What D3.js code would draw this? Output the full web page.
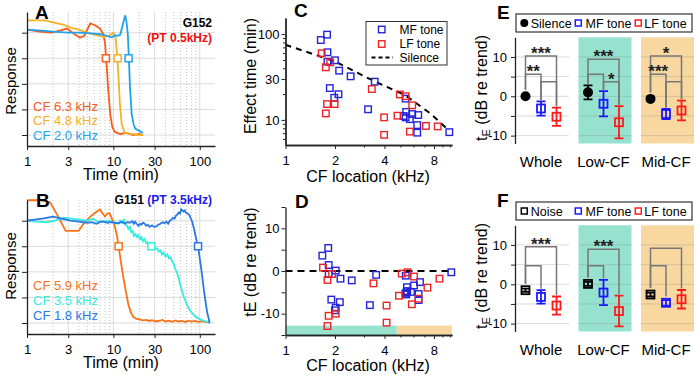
<!DOCTYPE html>
<html>
<head>
<meta charset="utf-8">
<script src="https://cdn.jsdelivr.net/npm/d3@7"></script>
<style>
  body { margin: 0; background: #fff; }
  svg { font-family: "Liberation Sans", Arial, sans-serif; }
</style>
</head>
<body>
<script>
// ---------------- data ----------------
// A: G152 (PT 0.5 kHz), [time min, normalized response]
const a63 = [[1,1.03],[1.4,1.01],[1.9,1.0],[2.4,1.02],[2.9,1.04],[3.5,0.99],[4.1,0.95],[4.6,0.97],[5.4,1.09],[6.2,1.07],[7.0,1.04],[7.6,0.99],[8.0,0.9],[8.3,0.72],[8.7,0.45],[9.2,0.2],[9.7,0.08],[10.4,0.03],[12,0.01],[14,0.02],[17,0.0],[20,0.01],[22,0.0]];
const a48 = [[1,1.12],[1.3,1.12],[1.6,1.12],[2,1.1],[2.6,1.08],[3.2,1.05],[4,1.03],[4.9,1.0],[6,0.98],[7.7,0.96],[9,0.97],[10,1.0],[10.6,0.95],[11.0,0.8],[11.4,0.6],[11.9,0.3],[12.5,0.1],[13.6,0.02],[16,0.01],[19,0.0],[22,0.0]];
const a20 = [[1,1.03],[1.5,1.02],[2,1.01],[3,1.0],[4,1.0],[5,0.995],[6,0.99],[7,0.985],[8,0.975],[9,0.96],[9.6,0.955],[10.4,0.975],[11.2,0.97],[12,0.98],[12.6,1.05],[13.2,1.12],[13.7,1.17],[14.2,1.1],[14.7,0.98],[15.1,0.75],[15.6,0.45],[16.3,0.2],[17.2,0.1],[18,0.06],[20,0.04],[22,0.02]];
const aMarks = [8.2, 11.2, 15.0];

// B: G151 (PT 3.5 kHz)
const b59 = [[1,1.2],[1.4,1.2],[1.85,1.18],[2.3,1.04],[2.8,0.9],[3.4,0.9],[3.95,0.9],[4.6,0.98],[5.4,1.04],[6.2,1.08],[7.0,1.11],[7.5,1.07],[8.0,1.04],[8.5,1.07],[9.0,1.075],[9.6,1.02],[10.3,0.96],[11,0.85],[11.5,0.75],[12.2,0.6],[13,0.45],[14,0.3],[15,0.17],[16,0.1],[17,0.06],[18.5,0.04],[20,0.035],[22,0.025],[24,0.03],[26,0.02],[28,0.028],[31,0.015],[34,0.022],[37,0.03],[40,0.015],[44,0.022],[48,0.012],[52,0.025],[57,0.015],[62,0.02],[68,0.01],[74,0.022],[80,0.014],[88,0.02],[96,0.012],[105,0.018],[115,0.01],[125,0.008],[130,0.0]];
const b35 = [[1,1.0],[1.3,0.99],[1.7,0.985],[2.1,1.0],[2.65,1.03],[3.3,1.02],[4,1.01],[4.9,1.0],[5.8,1.02],[6.6,0.99],[7.7,0.99],[8.8,1.0],[10.4,0.98],[11.3,0.97],[12,1.0],[12.6,0.98],[13.2,1.01],[13.8,0.96],[14.4,0.95],[14.9,0.92],[15.5,0.94],[16,0.89],[16.7,0.9],[17.3,0.85],[18,0.87],[18.8,0.84],[19.5,0.86],[20.3,0.82],[21,0.84],[22,0.8],[23,0.82],[24,0.78],[25,0.79],[26.2,0.76],[27.5,0.75],[29,0.76],[30.5,0.72],[32,0.73],[33.5,0.7],[35,0.71],[36.5,0.67],[38,0.69],[40,0.65],[42,0.67],[44,0.63],[46,0.64],[48,0.6],[50,0.58],[52,0.53],[54,0.5],[56,0.46],[58,0.41],[60,0.36],[62,0.32],[65,0.26],[68,0.22],[72,0.17],[76,0.13],[81,0.1],[87,0.07],[94,0.05],[102,0.035],[112,0.02],[122,0.01],[130,0.0]];
const b18 = [[1,1.0],[1.5,1.02],[2.0,1.04],[2.5,1.02],[3.2,1.0],[4,0.99],[4.9,0.98],[5.6,0.985],[6.4,0.97],[7.1,0.99],[7.7,0.99],[8.5,0.98],[9.4,0.985],[10.4,0.98],[11.5,0.975],[12.5,0.99],[13.5,0.97],[14.5,0.985],[15.5,0.98],[16.5,0.995],[17.3,0.97],[17.8,0.99],[18.6,0.97],[19.5,0.95],[20.3,0.97],[21,0.96],[22,0.98],[23,0.97],[24,0.95],[25,0.96],[26.5,0.94],[28,0.955],[29.5,0.94],[31.5,0.945],[33,0.96],[35,0.97],[37,0.985],[39,0.975],[41,0.99],[43,0.97],[45,1.0],[47,1.01],[49,1.03],[51,1.02],[53,1.05],[55,1.06],[57,1.08],[59,1.07],[61,1.11],[63,1.1],[65,1.09],[67,1.1],[69,1.08],[72,1.07],[75,1.06],[78,1.03],[81,1.0],[84,0.95],[88,0.88],[92,0.8],[96,0.74],[100,0.63],[104,0.53],[108,0.42],[112,0.31],[117,0.2],[122,0.1],[127,0.04],[130,0.0]];
const bMarks = [11.5, 27.5, 95.5];

// C: effect time vs CF location
const cMfKhz = [5.38,5.42,5.23,5.38,5.71,5.90,6.42,6.33,6.33,9.92,3.18,3.49,2.49,2.12,2.0,1.80,1.80,1.79,1.64,1.86,1.98,2.10];
const cMfMin = [17.7,12.4,11.1,10.7,10.2,11.7,11.4,8.7,7.1,7.2,13.3,27.9,32.2,37.5,49.5,47.7,61.4,98.6,85.3,23.5,18.1,19.9];
const cLfKhz = [1.66,1.87,1.76,1.79,1.99,1.76,3.35,3.98,3.98,4.80,4.96,5.38,5.90,5.71,7.15,8.43];
const cLfMin = [59.8,46.9,41.0,15.3,15.3,11.9,22.9,10.7,6.7,11.2,19.8,18.9,14.8,7.3,8.5,8.4];
const silKhz = [1,2,3.5,5.3,7.6,9.8];
const silMin = [75,48,28,19.6,11.9,7.6];

// D: tE vs CF location
const dMfKhz = [1.675,1.82,1.83,1.83,2.02,2.16,2.53,3.56,1.90,2.14,2.02,2.0,3.26,5.39,5.48,5.50,5.36,5.42,5.45,5.8,6.05,6.58,6.45,6.45,10.2];
const dMfDb  = [3.6,5.4,1.4,-0.7,0.1,-1.8,-2.2,-0.9,-6.7,-7.3,-8.6,-9.2,-8.0,-1.1,-3.8,-4.7,-5.3,-5.5,-5.0,-4.9,-3.4,-2.6,-5.4,-6.8,-0.3];
const dLfKhz = [1.69,1.80,1.92,1.83,1.80,2.02,3.43,4.12,4.12,4.90,5.09,5.53,6.05,5.87,6.45,7.30,8.64];
const dLfDb  = [0.8,-2.1,-0.7,-10.5,-12.9,-10.0,-2.9,-8.1,-12.1,-5.8,-0.6,-0.3,-1.3,-7.8,-6.5,-3.9,-1.8];
const cfBands = [[1,4.75],[4.75,10.3]];

// E / F: group means and errors
const groups = ["Whole","Low-CF","Mid-CF"];
const eSilMean = [0.0,1.0,-0.66], eSilErr = [0.3,1.8,0.4];
const eMfMean  = [-3.1,-1.9,-4.5], eMfErr  = [1.8,3.2,1.3];
const eLfMean  = [-5.2,-6.6,-3.6], eLfErr  = [2.3,4.1,2.5];
const fNoiMean = [-1.5,0.1,-2.6],  fNoiErr = [0.4,0.5,0.5];
const fMfMean  = [-3.2,-2.1,-4.7], fMfErr  = [1.7,3.2,0.7];
const fLfMean  = [-5.4,-6.8,-3.8], fLfErr  = [2.3,3.9,2.35];
// [group, from, to, height dB, stars]
const eBrackets = [[0,0,2,10.25,"***"],[0,0,1,5.6,"**"],[0,1,2,3.7,""],
                   [1,0,2,9.4,"***"],[1,0,1,5.6,""],[1,1,2,3.7,"*"],
                   [2,0,2,10.25,"*"],[2,0,1,5.6,"***"],[2,1,2,3.7,""]];
const fBrackets = [[0,0,2,9.56,"***"],[0,0,1,4.73,""],
                   [1,0,2,8.9,"***"],[1,0,1,4.73,""],
                   [2,0,2,9.15,""],[2,0,1,4.73,""]];

// ---------------- drawing ----------------
const svg = d3.select('body').append('svg').attr('width', 700).attr('height', 376);

function styleAxis(g) {
  g.selectAll('path.domain').attr('stroke', '#222').attr('stroke-width', 1.3);
  g.selectAll('.tick line').attr('stroke', '#222');
  g.selectAll('.tick text').attr('font-size', 13).attr('fill', '#000');
  g.attr('font-family', null);
}
function txt(x, y, s, size, opts = {}) {
  const t = svg.append('text').attr('x', x).attr('y', y).attr('font-size', size).text(s)
    .attr('fill', opts.fill || '#000');
  if (opts.anchor) t.attr('text-anchor', opts.anchor);
  if (opts.bold) t.attr('font-weight', 'bold');
  return t;
}
function vlabel(cx, cy, s, size) {
  return svg.append('text').attr('transform', `translate(${cx},${cy}) rotate(-90)`)
    .attr('text-anchor', 'middle').attr('dy', '0.35em').attr('font-size', size).text(s);
}
function squares(g, xs, ys, sx, sy, col, size) {
  g.selectAll(null).data(xs).enter().append('rect')
    .attr('x', (d, i) => sx(d) - size / 2).attr('y', (d, i) => sy(ys[i]) - size / 2)
    .attr('width', size).attr('height', size)
    .attr('fill', 'none').attr('stroke', col).attr('stroke-width', 1.4);
}

// ---- A & B ----
function timePanel(dy, series, marks, cols, names, legY) {
  const x = d3.scaleLog().domain([1, 150]).range([27, 215]);
  const y = d3.scaleLinear().domain([-0.1075, 1.2023]).range([146 + dy, 12 + dy]);
  const g = svg.append('g');
  g.selectAll(null).data([2,4,5,6,7,8,9,20,40,50,60,70,80,90]).enter().append('line')
    .attr('x1', d => x(d)).attr('x2', d => x(d)).attr('y1', y.range()[1]).attr('y2', y.range()[0])
    .attr('stroke', '#c4c4c4').attr('stroke-dasharray', '1,2');
  g.selectAll(null).data([3,10,30,100]).enter().append('line')
    .attr('x1', d => x(d)).attr('x2', d => x(d)).attr('y1', y.range()[1]).attr('y2', y.range()[0])
    .attr('stroke', '#dadada');
  g.selectAll(null).data([0,0.25,0.5,0.75,1]).enter().append('line')
    .attr('x1', 27).attr('x2', 215).attr('y1', d => y(d)).attr('y2', d => y(d))
    .attr('stroke', '#dadada');
  const line = d3.line().x(d => x(d[0])).y(d => y(d[1]));
  series.forEach((s, i) => g.append('path').datum(s).attr('d', line)
    .attr('fill', 'none').attr('stroke', cols[i]).attr('stroke-width', 1.8));
  marks.forEach((m, i) => g.append('rect').attr('x', x(m) - 3.5).attr('y', y(0.75) - 3.5)
    .attr('width', 7).attr('height', 7).attr('fill', '#fff').attr('stroke', cols[i]).attr('stroke-width', 1.5));
  g.append('g').attr('transform', `translate(0,${146 + dy})`)
    .call(d3.axisBottom(x).tickValues([1,3,10,30,100]).tickFormat(d3.format('d')).tickSize(4).tickSizeOuter(0).tickPadding(7))
    .call(styleAxis);
  g.append('g').attr('transform', 'translate(27,0)')
    .call(d3.axisLeft(y).tickValues([0,0.25,0.5,0.75,1]).tickFormat('').tickSize(5).tickSizeOuter(0))
    .call(styleAxis);
  names.forEach((n, i) => txt(33, legY[i] + 4.7, n, 13, { fill: cols[i] }));
  txt(121, 180 + dy, 'Time (min)', 16, { anchor: 'middle' });
}
timePanel(0, [a63, a48, a20], aMarks, ['#fa5a1e', '#f5b02a', '#1fa3ee'],
  ['CF 6.3 kHz', 'CF 4.8 kHz', 'CF 2.0 kHz'], [106, 120.5, 135]);
timePanel(188, [b59, b35, b18], bMarks, ['#fa7318', '#33eedf', '#2a78e6'],
  ['CF 5.9 kHz', 'CF 3.5 kHz', 'CF 1.8 kHz'], [285, 300, 315]);
vlabel(11, 81, 'Response', 15);
vlabel(11, 266, 'Response', 15);
txt(35, 19, 'A', 19, { bold: true });
txt(36, 207, 'B', 19, { bold: true });
txt(212, 27, 'G152', 12, { bold: true, anchor: 'end' });
txt(212, 41.5, '(PT 0.5kHz)', 12, { bold: true, anchor: 'end', fill: '#ee1111' });
const gt = txt(212, 204, '', 12, { bold: true, anchor: 'end' });
gt.append('tspan').text('G151 ');
gt.append('tspan').attr('fill', '#1a1aee').text('(PT 3.5kHz)');

// ---- C ----
const xC = d3.scaleLog().base(2).domain([1, 10.3]).range([285.5, 452]);
const yC = d3.scaleLog().domain([5.1, 154]).range([145, 18]);
const gC = svg.append('g');
const silLine = d3.line().x((d, i) => xC(d)).y((d, i) => yC(silMin[i]));
gC.append('path').attr('d', silLine(silKhz)).attr('fill', 'none')
  .attr('stroke', '#000').attr('stroke-width', 2).attr('stroke-dasharray', '6,5');
squares(gC, cMfKhz, cMfMin, xC, yC, '#2323dd', 6.5);
squares(gC, cLfKhz, cLfMin, xC, yC, '#ee2323', 6.5);
gC.append('g').attr('transform', 'translate(0,145)')
  .call(d3.axisBottom(xC).tickValues([1,2,4,8]).tickFormat(d3.format('d')).tickSize(4).tickSizeOuter(0).tickPadding(7))
  .call(styleAxis);
gC.append('g').attr('transform', 'translate(0,145)')
  .call(d3.axisBottom(xC).tickValues([3,5,6,7,9,10]).tickFormat('').tickSize(2.5).tickSizeOuter(0))
  .call(styleAxis);
gC.append('g').attr('transform', 'translate(285.5,0)')
  .call(d3.axisLeft(yC).tickValues([10,30,100]).tickFormat(d3.format('d')).tickSize(4).tickSizeOuter(0).tickPadding(2))
  .call(styleAxis);
gC.append('g').attr('transform', 'translate(285.5,0)')
  .call(d3.axisLeft(yC).tickValues([6,7,8,9,20,40,50,60,70,80,90]).tickFormat('').tickSize(2.5).tickSizeOuter(0))
  .call(styleAxis);
gC.append('rect').attr('x', 366).attr('y', 21.5).attr('width', 81).attr('height', 43.5)
  .attr('fill', '#fff').attr('stroke', '#333').attr('stroke-width', 1);
[['MF tone', '#2323dd', 29.5], ['LF tone', '#ee2323', 44]].forEach(([n, c, yy]) => {
  gC.append('rect').attr('x', 378.5).attr('y', yy - 3.25).attr('width', 6.5).attr('height', 6.5)
    .attr('fill', 'none').attr('stroke', c).attr('stroke-width', 1.4);
  txt(399.5, yy + 4.3, n, 12);
});
gC.append('line').attr('x1', 371.5).attr('x2', 393).attr('y1', 57.5).attr('y2', 57.5)
  .attr('stroke', '#000').attr('stroke-width', 2).attr('stroke-dasharray', '4,3');
txt(399.5, 61.8, 'Silence', 12);
txt(294, 17, 'C', 19, { bold: true });
txt(368, 182, 'CF location (kHz)', 16, { anchor: 'middle' });
vlabel(250, 76, 'Effect time (min)', 16);

// ---- D ----
const yD = d3.scaleLinear().domain([-15, 15]).range([335, 207]);
const gD = svg.append('g');
gD.selectAll(null).data(cfBands).enter().append('rect')
  .attr('x', d => xC(d[0])).attr('width', d => xC(d[1]) - xC(d[0]))
  .attr('y', yD(-12.8)).attr('height', yD(-15) - yD(-12.8))
  .attr('fill', (d, i) => i ? '#f8d8a0' : '#97e2cf');
gD.append('line').attr('x1', xC(1)).attr('x2', xC(10.3)).attr('y1', yD(0)).attr('y2', yD(0))
  .attr('stroke', '#000').attr('stroke-width', 2).attr('stroke-dasharray', '7,5');
squares(gD, dMfKhz, dMfDb, xC, yD, '#2323dd', 6.5);
squares(gD, dLfKhz, dLfDb, xC, yD, '#ee2323', 6.5);
gD.append('g').attr('transform', 'translate(0,335)')
  .call(d3.axisBottom(xC).tickValues([1,2,4,8]).tickFormat(d3.format('d')).tickSize(4).tickSizeOuter(0).tickPadding(7))
  .call(styleAxis);
gD.append('g').attr('transform', 'translate(0,335)')
  .call(d3.axisBottom(xC).tickValues([3,5,6,7,9,10]).tickFormat('').tickSize(2.5).tickSizeOuter(0))
  .call(styleAxis);
gD.append('g').attr('transform', 'translate(285.5,0)')
  .call(d3.axisLeft(yD).tickValues([-15,-10,-5,0,5,10,15]).tickFormat(d => d % 10 === 0 ? String(d) : '')
    .tickSize(4).tickSizeOuter(0).tickPadding(2))
  .call(styleAxis);
txt(295, 208, 'D', 19, { bold: true });
txt(368, 370.5, 'CF location (kHz)', 16, { anchor: 'middle' });
vlabel(250, 262, 'tE (dB re trend)', 16);

// ---- E & F ----
function statPanel(dy, letter, firstName, firstDot, firstMean, firstErr, mfMean, mfErr, lfMean, lfErr, brackets) {
  const y = d3.scaleLinear().domain([-12, 15]).range([143.5 + dy, 37.3 + dy]);
  const xg = d3.scalePoint().domain(groups).range([541, 666]);
  const off = [-15.5, 0, 15.5];
  const g = svg.append('g');
  const bandCols = ['none', '#97e2cf', '#f8d8a0'];
  groups.forEach((grp, i) => {
    const c = xg(grp) + 1.5;
    g.append('rect').attr('x', c - 26.5).attr('width', 53).attr('y', y(15)).attr('height', y(-12) - y(15))
      .attr('fill', bandCols[i]);
    g.selectAll(null).data([-10, -5, 0, 5, 10]).enter().append('line')
      .attr('x1', c - 26.5).attr('x2', c + 26.5).attr('y1', d => y(d)).attr('y2', d => y(d))
      .attr('stroke', '#888').attr('stroke-opacity', 0.3);
  });
  g.append('g').attr('transform', 'translate(515,0)')
    .call(d3.axisLeft(y).tickValues([-10, -5, 0, 5, 10]).tickFormat(d => d % 10 === 0 ? String(d) : '')
      .tickSize(4).tickSizeOuter(0).tickPadding(4))
    .call(styleAxis);
  const sets = [[firstMean, firstErr, '#000'], [mfMean, mfErr, '#1a1aff'], [lfMean, lfErr, '#ff1a1a']];
  const topOf = (gi, k) => {
    const [m, e] = sets[k];
    return Math.min(y(m[gi] + e[gi]), y(m[gi]) - 5) - 1.5;
  };
  // brackets
  brackets.forEach(([gi, a, b, h, s]) => {
    const xa = xg(groups[gi]) + off[a], xb = xg(groups[gi]) + off[b];
    g.append('path').attr('d', `M${xa},${topOf(gi, a)}V${y(h)}H${xb}V${topOf(gi, b)}`)
      .attr('fill', 'none').attr('stroke', '#777').attr('stroke-width', 1.5);
    if (s) g.append('text').attr('x', (xa + xb) / 2).attr('y', y(h) + 3).attr('text-anchor', 'middle')
      .attr('font-size', 17).attr('font-weight', 'bold').attr('fill', '#222').text(s);
  });
  // error bars and markers
  sets.forEach(([m, e, col], k) => {
    groups.forEach((grp, gi) => {
      const cx = xg(grp) + off[k];
      const y1 = y(m[gi] + e[gi]), y2 = y(m[gi] - e[gi]);
      g.append('path').attr('d', `M${cx - 4.5},${y1}H${cx + 4.5}M${cx},${y1}V${y2}M${cx - 4.5},${y2}H${cx + 4.5}`)
        .attr('fill', 'none').attr('stroke', col).attr('stroke-width', 1.8);
      if (k === 0 && firstDot) {
        g.append('circle').attr('cx', cx).attr('cy', y(m[gi])).attr('r', 5).attr('fill', '#000');
      } else {
        g.append('rect').attr('x', cx - 4).attr('y', y(m[gi]) - 4).attr('width', 8).attr('height', 8)
          .attr('fill', 'none').attr('stroke', col).attr('stroke-width', 1.8);
      }
    });
  });
  groups.forEach(grp => txt(xg(grp), 167 + dy, grp, 15, { anchor: 'middle' }));
  // legend
  g.append('rect').attr('x', 516).attr('y', 14 + dy).attr('width', 176).attr('height', 18)
    .attr('fill', '#fff').attr('stroke', '#333').attr('stroke-width', 1.2);
  const ly = 23 + dy;
  if (firstDot) g.append('circle').attr('cx', 524.3).attr('cy', ly).attr('r', 4).attr('fill', '#000');
  else g.append('rect').attr('x', 521.3).attr('y', ly - 3).attr('width', 6).attr('height', 6)
    .attr('fill', 'none').attr('stroke', '#000').attr('stroke-width', 1.5);
  [[578.3, '#1a1aff'], [638.3, '#ff1a1a']].forEach(([lx, c]) => g.append('rect')
    .attr('x', lx - 3).attr('y', ly - 3).attr('width', 6).attr('height', 6)
    .attr('fill', 'none').attr('stroke', c).attr('stroke-width', 1.5));
  txt(530.7, ly + 4.5, firstName, 12.5);
  txt(585.5, ly + 4.5, 'MF tone', 12.5);
  txt(644.3, ly + 4.5, 'LF tone', 12.5);
  txt(497, 18.5 + dy, letter, 19, { bold: true });
  const yl = svg.append('text').attr('transform', `translate(481,${88 + dy}) rotate(-90)`)
    .attr('text-anchor', 'middle').attr('dy', '0.35em').attr('font-size', 16);
  yl.append('tspan').text('t');
  yl.append('tspan').attr('font-size', 11).attr('dy', '3').text('E');
  yl.append('tspan').attr('dy', '-3').text(' (dB re trend)');
}
statPanel(0, 'E', 'Silence', true, eSilMean, eSilErr, eMfMean, eMfErr, eLfMean, eLfErr, eBrackets);
statPanel(188, 'F', 'Noise', false, fNoiMean, fNoiErr, fMfMean, fMfErr, fLfMean, fLfErr, fBrackets);
</script>
</body>
</html>
